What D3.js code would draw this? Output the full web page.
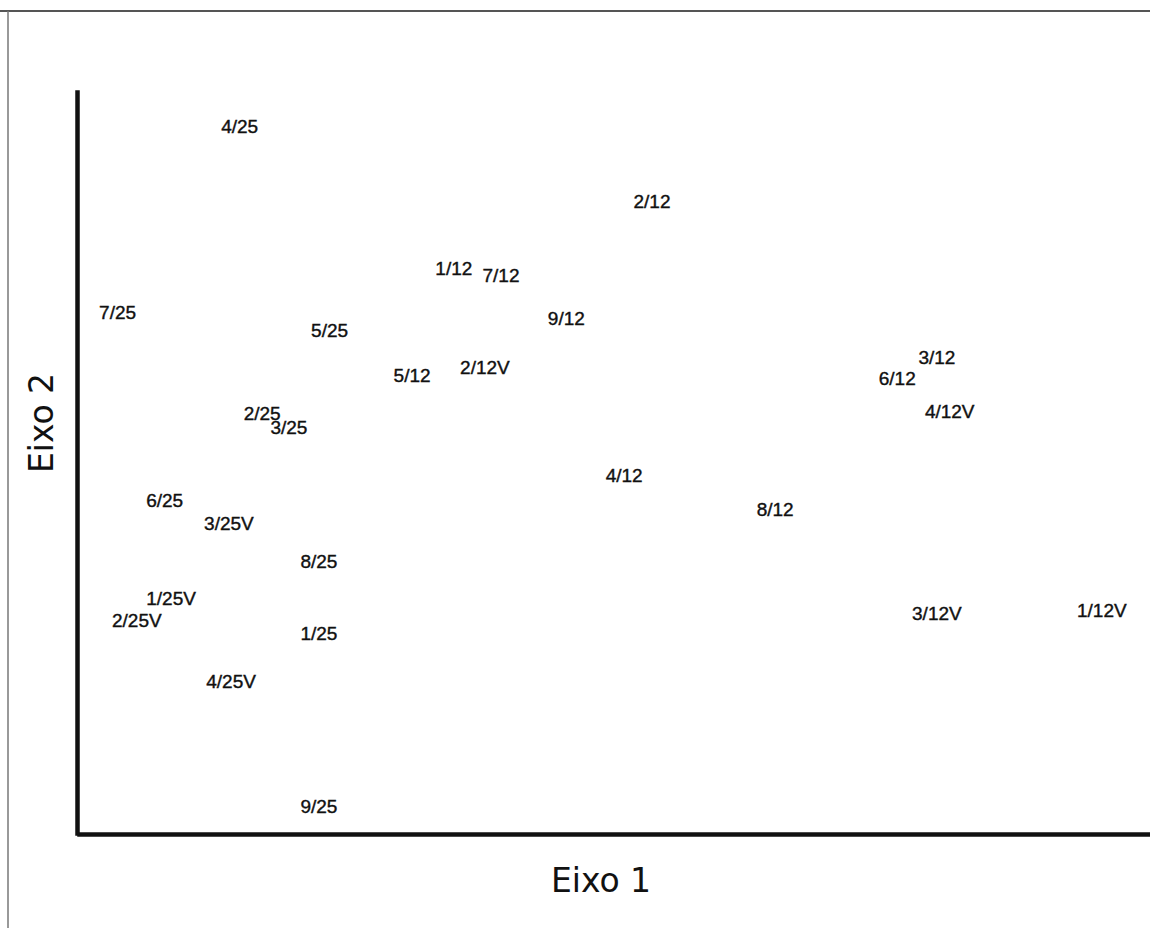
<!DOCTYPE html>
<html>
<head>
<meta charset="utf-8">
<script src="https://cdn.jsdelivr.net/npm/d3@7"></script>
<style>
  body { margin: 0; background: #fff; }
  svg { display: block; }
</style>
</head>
<body>
<div id="chart"></div>
<script>
// sample labels and their scores on the two axes
var labels = ["4/25", "2/12", "1/12", "7/12", "7/25", "9/12", "5/25", "3/12", "5/12", "2/12V",
              "6/12", "4/12V", "2/25", "3/25", "4/12", "6/25", "8/12", "3/25V", "8/25", "1/25V",
              "2/25V", "3/12V", "1/12V", "1/25", "4/25V", "9/25"];
var eixo1 = [15.0, 53.5, 35.0, 39.4, 3.6, 45.5, 23.4, 80.1, 31.1, 37.9,
             76.4, 81.3, 17.1, 19.6, 50.9, 8.0, 65.0, 14.0, 22.4, 8.6,
             5.4, 80.1, 95.5, 22.4, 14.2, 22.4];
var eixo2 = [95.3, 85.3, 76.2, 75.2, 70.3, 69.5, 67.9, 64.2, 61.7, 62.9,
             61.3, 56.9, 56.7, 54.8, 48.2, 44.9, 43.7, 41.8, 36.7, 31.7,
             28.7, 29.7, 30.1, 27.0, 20.5, 3.6];
var xDomain = [0, 100];
var yDomain = [0, 100];

var width = 1150, height = 928;
var margin = { top: 92, right: 0, bottom: 95, left: 79 };

var svg = d3.select("#chart").append("svg")
    .attr("width", width)
    .attr("height", height);

// frame around the figure
svg.append("line")
    .attr("x1", 0).attr("x2", width).attr("y1", 11).attr("y2", 11)
    .attr("stroke", "#555").attr("stroke-width", 2);
svg.append("line")
    .attr("x1", 8).attr("x2", 8).attr("y1", 11).attr("y2", height)
    .attr("stroke", "#777").attr("stroke-width", 1.5);

const xScale = d3.scaleLinear()
    .domain(xDomain)
    .range([margin.left, width - margin.right]);
const yScale = d3.scaleLinear()
    .domain(yDomain)
    .range([height - margin.bottom, margin.top]);

// axes without ticks, just thick lines
svg.append("g")
    .attr("class", "x-axis")
    .attr("transform", `translate(0, ${height - margin.bottom + 1})`)
    .call(d3.axisBottom(xScale).ticks(0).tickSize(0).tickSizeOuter(0))
    .select(".domain")
    .attr("stroke", "#111")
    .attr("stroke-width", 4.5)
    .attr("stroke-linecap", "square");

svg.append("g")
    .attr("class", "y-axis")
    .attr("transform", `translate(${margin.left - 2}, 0)`)
    .call(d3.axisLeft(yScale).ticks(0).tickSize(0).tickSizeOuter(0))
    .select(".domain")
    .attr("stroke", "#111")
    .attr("stroke-width", 4.5)
    .attr("stroke-linecap", "square");

// point labels
const points = labels.map((d, i) => ({ label: d, x: eixo1[i], y: eixo2[i] }));
svg.append("g")
    .attr("class", "labels")
    .selectAll("text")
    .data(points)
    .join("text")
    .attr("x", d => xScale(d.x))
    .attr("y", d => yScale(d.y))
    .attr("dy", "0.35em")
    .attr("text-anchor", "middle")
    .attr("font-family", "Liberation Sans, Arial, sans-serif")
    .attr("font-size", "19px")
    .attr("fill", "#111")
    .attr("stroke", "#111")
    .attr("stroke-width", 0.4)
    .text(d => d.label);

// axis titles
svg.append("text")
    .attr("x", 601)
    .attr("y", 892)
    .attr("text-anchor", "middle")
    .attr("font-family", "DejaVu Sans, sans-serif")
    .attr("font-size", "33px")
    .attr("fill", "#111")
    .text("Eixo 1");

svg.append("text")
    .attr("transform", "translate(53, 423) rotate(-90)")
    .attr("text-anchor", "middle")
    .attr("font-family", "DejaVu Sans, sans-serif")
    .attr("font-size", "33px")
    .attr("fill", "#111")
    .text("Eixo 2");
</script>
</body>
</html>
